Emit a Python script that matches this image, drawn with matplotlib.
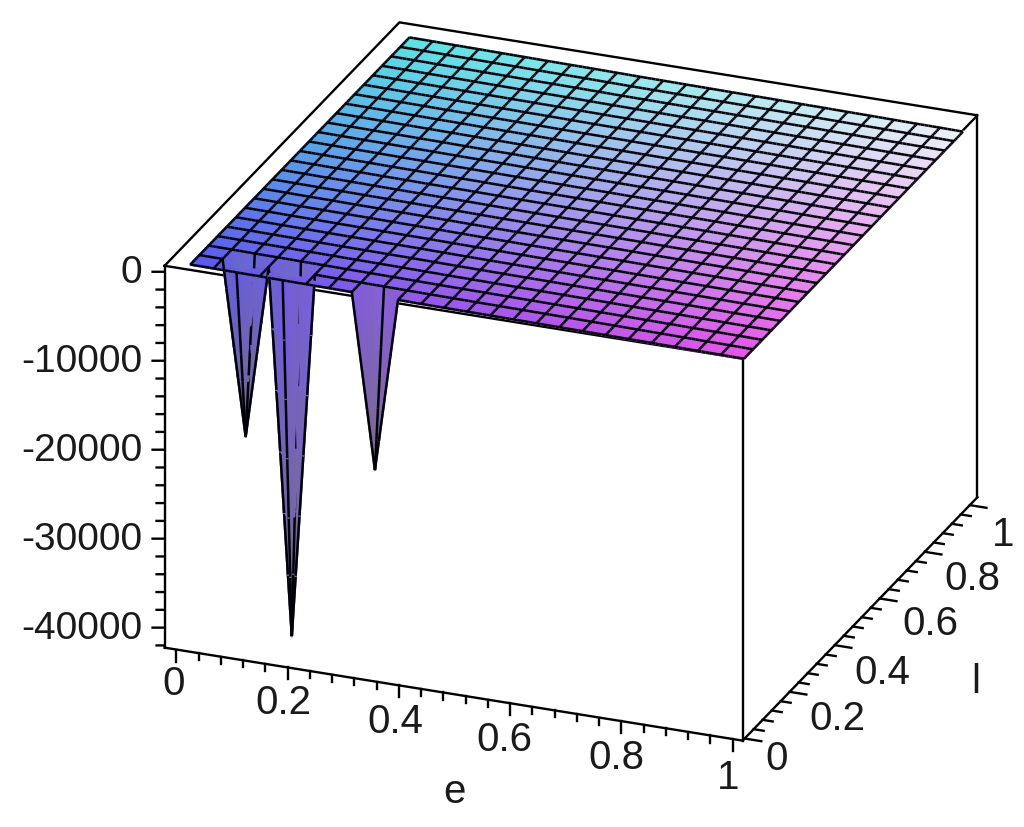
#!/usr/bin/env python3
import matplotlib
matplotlib.use('Agg')
import matplotlib.pyplot as plt
import numpy as np
from mpl_toolkits.mplot3d import proj3d
from mpl_toolkits.mplot3d.art3d import Poly3DCollection

plt.rcParams['font.family'] = ['Liberation Sans', 'DejaVu Sans']

# grid of the surface
e_nodes = np.linspace(0.025, 1.02, 25)
l_nodes = np.linspace(-0.008, 0.965, 25)
# flat part of the surface, one height per e node (it tilts up a little to the left)
plateau = [1250, 1230, 1200, 1180, 1150, 1130, 1100, 1080, 1060, 1030, 1000, 980, 960,
           940, 920, 900, 880, 850, 830, 800, 780, 750, 720, 700, 670]
spike_i = [2, 4, 8]
spike_j = [1, 1, 0]
spike_z = [-18300.0, -39900.0, -18500.0]

e_lim = (-0.021, 1.018)
l_lim = (-0.009, 1.034)
z_lim = (-42250.0, 674.0)

e_major = [0, 0.2, 0.4, 0.6, 0.8, 1]
e_major_labels = ['0', '0.2', '0.4', '0.6', '0.8', '1']
l_major = [0, 0.2, 0.4, 0.6, 0.8, 1]
l_major_labels = ['0', '0.2', '0.4', '0.6', '0.8', '1']
z_major = [0, -10000, -20000, -30000, -40000]
z_major_labels = ['0', '-10000', '-20000', '-30000', '-40000']
e_minor = np.arange(0, 1.001, 0.04)
l_minor = np.arange(0, 1.001, 0.04)
z_minor = np.arange(0, -42001, -2000)

# label offsets in pixels (x right, y up)
e_dx = [-3, -4, -3, -6, -5, -4]
e_dy = [-34, -36, -37, -37, -37, -39]
l_dx = [32, 48, 48, 51, 48, 33]
l_dy = [-20, -27, -28, -26, -27, -30]

# corner colours of the surface
c_e0l0 = np.array([90, 90, 235]) / 255
c_e1l0 = np.array([228, 85, 232]) / 255
c_e0l1 = np.array([90, 228, 228]) / 255
c_e1l1 = np.array([238, 243, 247]) / 255
c_tip = np.array([120, 110, 122]) / 255

P = np.repeat(np.array(plateau, dtype=float)[:, None], 25, axis=1)
Z = P.copy()
for i, j, z in zip(spike_i, spike_j, spike_z):
    Z[i, j] = z

fig = plt.figure(figsize=(10.24, 8.27), dpi=100)
# axes square made bigger than the figure so nothing gets clipped at the right
side = 1100
ax = fig.add_axes([(571 - 0.5135 * side) / 1024, (445.5 - 0.5135 * side) / 827, side / 1024, side / 827],
                  projection='3d', proj_type='ortho', computed_zorder=False)
ax.set_xlim(*e_lim)
ax.set_ylim(*l_lim)
ax.set_zlim(*z_lim)
ax.set_box_aspect((621.5, 641, 418.5), zoom=1.157 * 827 / side)
azim, elev = -68.5, 24.1
ax.view_init(elev=elev, azim=azim)
ax.set_axis_off()

# vertex colours
s = (e_nodes - e_nodes[0]) / (e_nodes[-1] - e_nodes[0])
t = (l_nodes - l_nodes[0]) / (l_nodes[-1] - l_nodes[0])
C = (np.outer(1 - s, 1 - t)[..., None] * c_e0l0 + np.outer(s, 1 - t)[..., None] * c_e1l0
     + np.outer(1 - s, t)[..., None] * c_e0l1 + np.outer(s, t)[..., None] * c_e1l1)
for i, j in zip(spike_i, spike_j):
    C[i, j] = c_tip

E, L = np.meshgrid(e_nodes, l_nodes, indexing='ij')

# the quads are split only to get smooth colour, and the mesh lines are pushed
# a bit to the viewer so they stay on top in the depth sort
n = 6
polys, faces, edges = [], [], []
w = np.linspace(0, 1, n + 1)


def patch(A, i, j, u, v):
    return ((1 - u) * (1 - v) * A[i, j] + u * (1 - v) * A[i + 1, j]
            + (1 - u) * v * A[i, j + 1] + u * v * A[i + 1, j + 1])


def patch_z(i, j, u, v):
    # funnel quads: flat triangle to the spike node, so the outline stays straight
    base = patch(P, i, j, u, v)
    for a, b in [(0, 0), (1, 0), (0, 1), (1, 1)]:
        if Z[i + a, j + b] < 0:
            uu = 1 - u if a else u
            vv = 1 - v if b else v
            return base + (Z[i + a, j + b] - P[i + a, j + b]) * max(0.0, 1 - uu - vv)
    return base


for i in range(24):
    for j in range(24):
        for a in range(n):
            for b in range(n):
                quad = []
                for u, v in [(w[a], w[b]), (w[a + 1], w[b]), (w[a + 1], w[b + 1]), (w[a], w[b + 1])]:
                    quad.append((patch(E, i, j, u, v), patch(L, i, j, u, v), patch_z(i, j, u, v)))
                col = patch(C, i, j, (w[a] + w[a + 1]) / 2, (w[b] + w[b + 1]) / 2)
                polys.append(quad)
                faces.append((*col, 1))
                edges.append((*col, 1))

asp = ax._box_aspect
az, el = np.radians(azim), np.radians(elev)
view = np.array([np.cos(el) * np.cos(az), np.cos(el) * np.sin(az), np.sin(el)])
eps = 0.05
shift = eps * view / asp * np.array([e_lim[1] - e_lim[0], l_lim[1] - l_lim[0], z_lim[1] - z_lim[0]])


def add_line(p, q):
    p, q = np.array(p) + shift, np.array(q) + shift
    for a in range(n):
        polys.append([p + (q - p) * w[a], p + (q - p) * w[a + 1]])
        faces.append((0, 0, 0, 0))
        edges.append((0, 0, 0.03, 1))


for i in range(25):
    for j in range(25):
        if i < 24:
            add_line((E[i, j], L[i, j], Z[i, j]), (E[i + 1, j], L[i + 1, j], Z[i + 1, j]))
        if j < 24:
            add_line((E[i, j], L[i, j], Z[i, j]), (E[i, j + 1], L[i, j + 1], Z[i, j + 1]))

surf = Poly3DCollection(polys, facecolors=faces, edgecolors=edges, linewidths=1.8, zorder=3)
ax.add_collection3d(surf, autolim=False)

# box
e0, e1 = e_lim
l0, l1 = l_lim
zb, zt = z_lim
box = dict(color='k', lw=1.7, zorder=1, solid_capstyle='projecting')
ax.plot([e0, e1, e1, e0, e0], [l0, l0, l1, l1, l0], [zt] * 5, **box)
ax.plot([e0, e1, e1], [l0, l0, l1], [zb] * 3, **box)
for x, y in [(e0, l0), (e1, l0), (e1, l1)]:
    ax.plot([x, x], [y, y], [zb, zt], **box)

# tick marks
tick = dict(color='k', lw=1.7, zorder=1)
for v in e_minor:
    major = min(abs(v - m) for m in e_major) < 1e-6
    ax.plot([v, v], [l0, l0], [zb, zb - (1350 if major else 800)], **tick)
for v in l_minor:
    major = min(abs(v - m) for m in l_major) < 1e-6
    ax.plot([e1, e1 + (0.03 if major else 0.018)], [v, v], [zb, zb], **tick)
for v in z_minor:
    major = v in z_major
    a, b = (0.0187, 0.0072) if major else (0.0125, 0.0048)
    ax.plot([e0, e0 - a], [l0, l0 - b], [v, v], **tick)


def label(text, x, y, z, dx, dy, ha='center', size=29):
    px, py, _ = proj3d.proj_transform(x, y, z, ax.get_proj())
    ax.annotate(text, xy=(px, py), xytext=(dx, dy), textcoords='offset pixels', ha=ha,
                va='center', fontsize=size, color='#1a1a1a', annotation_clip=False)


for v, txt, dx, dy in zip(e_major, e_major_labels, e_dx, e_dy):
    label(txt, v, l0, zb, dx, dy)
for v, txt, dx, dy in zip(l_major, l_major_labels, l_dx, l_dy):
    label(txt, e1, v, zb, dx, dy)
for v, txt in zip(z_major, z_major_labels):
    label(txt, e0, l0, v, -22, -1, ha='right', size=28)
label('e', 0.5, l0, zb, 0, -98)
label('l', e1, 0.5, zb, 119, -60)

fig.savefig('out.png', dpi=100)
